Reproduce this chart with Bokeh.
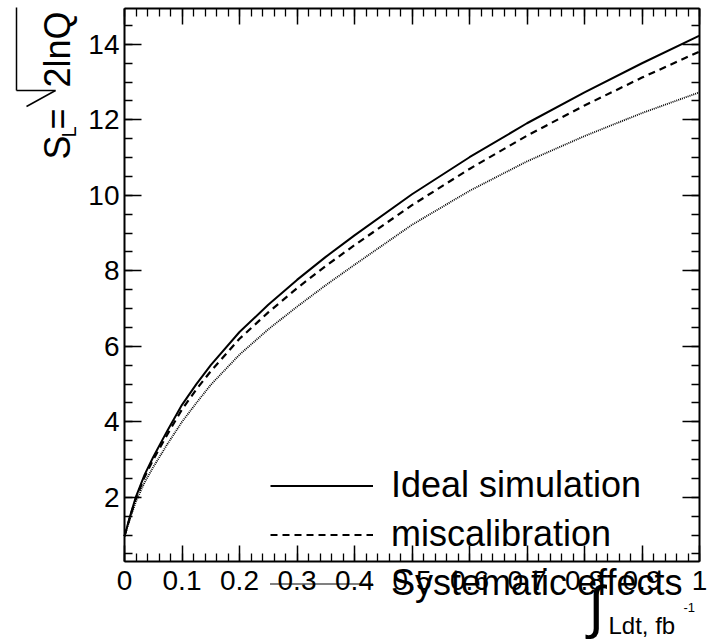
import numpy as np
from bokeh.plotting import figure
from bokeh.models import (LinearAxis, FixedTicker, Range1d, Legend, LegendItem,
                          Label, PolyAnnotation, CustomJSTickFormatter)
from bokeh.embed import file_html
from bokeh.resources import INLINE

# ---- data ----
lumi = [0, 0.01, 0.02, 0.035, 0.05, 0.075, 0.1, 0.125, 0.15, 0.2, 0.25, 0.3,
        0.35, 0.4, 0.5, 0.6, 0.7, 0.8, 0.9, 1.0]
ideal = [0.97, 1.52, 2.02, 2.6, 3.07, 3.78, 4.45, 5.0, 5.5, 6.38, 7.1, 7.76,
         8.37, 8.94, 10.03, 11.01, 11.91, 12.73, 13.5, 14.23]
miscal = [0.97, 1.5, 1.98, 2.54, 3.0, 3.68, 4.33, 4.86, 5.34, 6.2, 6.9, 7.54,
          8.13, 8.68, 9.74, 10.7, 11.58, 12.38, 13.12, 13.81]
syst = [0.97, 1.46, 1.89, 2.4, 2.8, 3.42, 4.0, 4.5, 4.98, 5.78, 6.45, 7.05,
        7.62, 8.16, 9.22, 10.12, 10.9, 11.57, 12.18, 12.73]
series_labels = ["Ideal simulation", "miscalibration", "Systematic effects"]

x_ticks = [0, 0.1, 0.2, 0.3, 0.4, 0.5, 0.6, 0.7, 0.8, 0.9, 1.0]
x_tick_labels = ["0", "0.1", "0.2", "0.3", "0.4", "0.5", "0.6", "0.7", "0.8", "0.9", "1"]
y_ticks = [2, 4, 6, 8, 10, 12, 14]
x_lo, x_hi = 0.0, 1.0
y_lo, y_hi = 0.3, 14.95

FONT = "Liberation Sans"
W, H = 709, 639
# pixel box of the axes inside the canvas
BL, BR, BT, BB = 124, 699, 8, 561
sx = (x_hi - x_lo) / (BR - BL)
sy = (y_hi - y_lo) / (BB - BT)

p = figure(width=W, height=H, min_border=0,
           x_range=Range1d(x_lo - BL * sx, x_hi + (W - BR) * sx),
           y_range=Range1d(y_lo - (H - BB) * sy, y_hi + BT * sy),
           output_backend="svg", toolbar_location=None,
           x_axis_type=None, y_axis_type=None)
p.grid.visible = False
p.outline_line_color = None
p.background_fill_color = "white"
p.border_fill_color = "white"

x_minor = [round(v, 3) for v in np.arange(0, 1.0001, 0.02)]
y_minor = [round(v, 2) for v in np.arange(0.5, 14.95, 0.5)]
xt = FixedTicker(ticks=x_ticks, minor_ticks=x_minor)
yt = FixedTicker(ticks=y_ticks, minor_ticks=y_minor)

fmt_x = CustomJSTickFormatter(args=dict(t=x_ticks, l=x_tick_labels), code="""
  for (let i = 0; i < t.length; i++) { if (Math.abs(t[i] - tick) < 1e-9) return l[i]; }
  return '';
""")
blank = CustomJSTickFormatter(code="return '';")


def style(ax, labels=True, major=16):
    ax.axis_line_width = 2
    ax.axis_line_color = "black"
    ax.major_tick_in = major
    ax.major_tick_out = 0
    ax.minor_tick_in = 8
    ax.minor_tick_out = 0
    ax.major_tick_line_width = 1.5
    ax.minor_tick_line_width = 1.3
    ax.major_tick_line_color = "black"
    ax.minor_tick_line_color = "black"
    if labels:
        ax.major_label_text_font = FONT
        ax.major_label_text_font_size = "28px"
        ax.major_label_text_color = "black"
    else:
        ax.major_label_text_font_size = "0px"
        ax.major_label_standoff = 0


xb = LinearAxis(ticker=xt, formatter=fmt_x, fixed_location=y_lo, bounds=(x_lo, x_hi))
style(xb)
xb.major_label_standoff = 9
p.add_layout(xb, "below")

yl = LinearAxis(ticker=yt, fixed_location=x_lo, bounds=(y_lo, y_hi))
style(yl, major=17)
yl.major_label_standoff = 5
p.add_layout(yl, "left")

xa = LinearAxis(ticker=xt, formatter=blank, fixed_location=y_hi, bounds=(x_lo, x_hi))
style(xa, labels=False)
p.add_layout(xa, "above")
yr = LinearAxis(ticker=yt, formatter=blank, fixed_location=x_hi, bounds=(y_lo, y_hi))
style(yr, labels=False, major=17)
p.add_layout(yr, "right")

r1 = p.line(lumi, ideal, line_color="black", line_width=2)
r2 = p.line(lumi, miscal, line_color="black", line_width=2.2, line_dash="7 5")
r3 = p.line(lumi, syst, line_color="black", line_width=1.8, line_dash="1 1")

legend = Legend(items=[LegendItem(label=series_labels[0], renderers=[r1]),
                       LegendItem(label=series_labels[1], renderers=[r2]),
                       LegendItem(label=series_labels[2], renderers=[r3])],
                location=(270, H - 604), orientation="vertical",
                label_text_font=FONT, label_text_font_size="36px",
                label_text_color="black",
                glyph_width=103, glyph_height=41, label_height=41,
                label_standoff=18, spacing=7, padding=0, margin=0,
                border_line_alpha=0, background_fill_alpha=0)
p.add_layout(legend, "center")


def lab(text, cx, cy, size, angle=0.0, font=FONT, baseline="alphabetic"):
    p.add_layout(Label(x=cx, y=H - cy, x_units="screen", y_units="screen",
                       text=text, angle=angle, text_font=font,
                       text_font_size=size, text_color="black",
                       text_align="left", text_baseline=baseline))


def seg(x0, y0, x1, y1, w=1.5):
    p.add_layout(PolyAnnotation(xs=[x0, x1], ys=[H - y0, H - y1],
                                xs_units="screen", ys_units="screen",
                                line_color="black", line_alpha=1.0, line_width=w,
                                fill_alpha=0))


# y-axis title  S_L = sqrt(2lnQ), rotated
ang = np.pi / 2
lab("S", 57, 159, "36px", ang)
lab("L", 68, 137, "20px", ang)
lab("=", 57, 129, "36px", ang)
lab("2lnQ", 57, 87, "36px", ang)
seg(26, 106, 55, 90)
seg(55, 90, 16, 90)
seg(16, 90, 16, 7)

# x-axis title  ∫ Ldt, fb^-1
lab("∫", 588, 638, "58px", baseline="bottom")
lab("Ldt, fb", 608, 625, "24px")
lab("-1", 683, 607, "13px")

open("out.html", "w").write(file_html(p, INLINE))
